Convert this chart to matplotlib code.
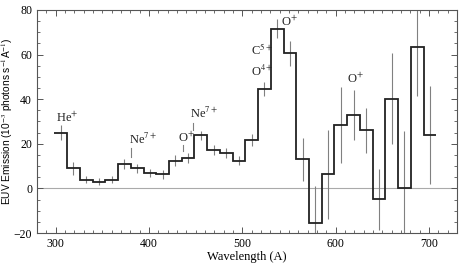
import matplotlib
matplotlib.use("Agg")
import matplotlib.pyplot as plt
from matplotlib.ticker import MultipleLocator
import numpy as np

plt.rcParams['font.family'] = ['Liberation Serif', 'DejaVu Serif']
plt.rcParams['mathtext.fontset'] = 'stix'

# Bin centers (Angstrom), bin width ~13.64 A
wavelength = [305.6, 319.2, 332.9, 346.5, 360.2, 373.8, 387.4, 401.1, 414.7, 428.4,
              442.0, 455.6, 469.3, 482.9, 496.6, 510.2, 523.8, 537.5, 551.1, 564.8,
              578.4, 592.0, 605.7, 619.3, 633.0, 646.6, 660.2, 673.9, 687.5, 701.2]
bin_width = 13.64
emission = [25, 9, 4, 3, 4, 11, 9, 7, 6.3, 12.5,
            13.8, 23.8, 17.2, 15.7, 12.5, 21.7, 44.5, 71.6, 60.5, 13,
            -15.7, 6.4, 28.3, 33, 26.1, -4.9, 40.2, 0.3, 63.2, 24.1]
err = [3.5, 2.8, 1.5, 1.5, 1.5, 2.2, 1.9, 1.9, 2.1, 2.4,
       2.2, 2.0, 2.2, 2.2, 2.2, 2.6, 3.3, 4.3, 5.6, 9.7,
       17, 20, 17, 11.3, 10, 13.5, 20.5, 25.5, 21.6, 22]

# Line identification labels: text, x (A), y (value)
labels = ["He$^{+}$", "Ne$^{7+}$", "O$^{+}$", "Ne$^{7+}$", "C$^{5+}$", "O$^{4+}$", "O$^{+}$", "O$^{+}$"]
label_x = [300, 379, 431, 444, 509.5, 509.5, 541.5, 612.5]
label_y = [29.7, 20.0, 21.0, 31.7, 60.0, 50.4, 73.0, 47.4]
# marker ticks: x, y0, y1
mark_x = [381, 436.5, 447.5]
mark_y0 = [13.9, 16.7, 26.0]
mark_y1 = [17.9, 19.5, 29.5]

fig = plt.figure(figsize=(4.61, 2.67), dpi=100)
ax = fig.add_axes([0.080, 0.127, 0.911, 0.836])

wl = np.array(wavelength)
edges = np.concatenate([wl - bin_width / 2, [wl[-1] + bin_width / 2]])

ax.axhline(0, color='#aaaaaa', lw=0.8, zorder=1)
ax.errorbar(wl, emission, yerr=err, fmt='none', ecolor='#808080', elinewidth=0.8, capsize=0, zorder=2)
ax.stairs(emission, edges, baseline=None, color='#222222', lw=1.3, zorder=3)

for t, x, y in zip(labels, label_x, label_y):
    ax.text(x, y, t, fontsize=9, ha='left', va='baseline', color='#222222')
for x, y0, y1 in zip(mark_x, mark_y0, mark_y1):
    ax.plot([x, x], [y0, y1], color='#808080', lw=0.8)

ax.set_xlim(280, 730)
ax.set_ylim(-20, 80)
ax.xaxis.set_major_locator(MultipleLocator(100))
ax.xaxis.set_minor_locator(MultipleLocator(10))
ax.yaxis.set_major_locator(MultipleLocator(20))
ax.yaxis.set_minor_locator(MultipleLocator(5))
ax.tick_params(which='both', direction='in', top=True, right=True, labelsize=8.5, color='#555555')
ax.tick_params(which='major', length=4, width=0.7)
ax.tick_params(which='minor', length=2, width=0.6)
for s in ax.spines.values():
    s.set_color('#555555')
    s.set_linewidth(0.8)

ax.set_xlabel("Wavelength (A)", fontsize=9, labelpad=1)
ax.set_ylabel("EUV Emission (10$^{-3}$ photons s$^{-1}$A$^{-1}$)", fontsize=7.3,
              family=['Liberation Sans', 'DejaVu Sans'])
ax.yaxis.set_label_coords(-0.052, 0.5)

fig.savefig("out.png", dpi=100)
